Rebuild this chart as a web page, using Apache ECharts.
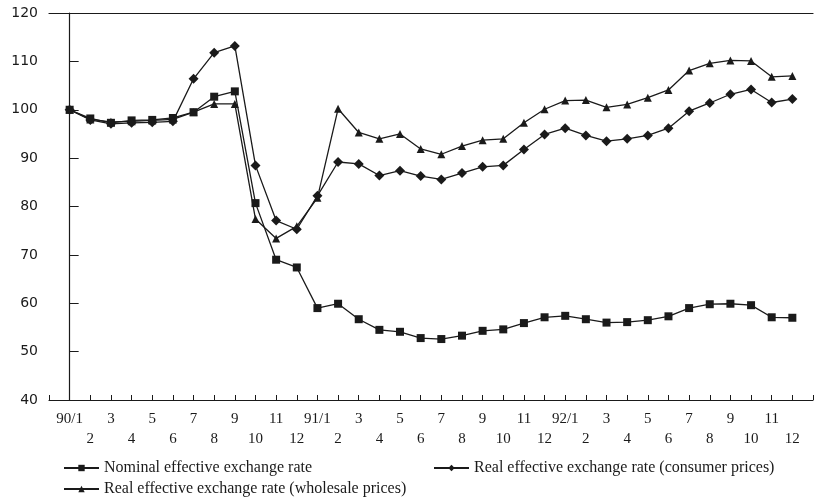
<!DOCTYPE html>
<html>
<head>
<meta charset="utf-8">
<script src="https://cdn.jsdelivr.net/npm/echarts@6/dist/echarts.min.js"></script>
<style>html,body{margin:0;padding:0;background:#fff;}#c{width:816px;height:504px;}</style>
</head>
<body>
<div id="c"></div>
<script>
const months = ['90/1','2','3','4','5','6','7','8','9','10','11','12',
                '91/1','2','3','4','5','6','7','8','9','10','11','12',
                '92/1','2','3','4','5','6','7','8','9','10','11','12'];
const yTicks = [40, 50, 60, 70, 80, 90, 100, 110, 120];
const nominal = [100,98.2,97.3,97.8,97.9,98.3,99.5,102.7,103.8,80.7,69.0,67.4,
                 59.0,59.9,56.7,54.5,54.1,52.8,52.6,53.3,54.3,54.6,55.9,57.1,
                 57.4,56.7,56.0,56.1,56.5,57.3,59.0,59.8,59.9,59.6,57.1,57.0];
const cpi = [100,97.9,97.1,97.3,97.4,97.6,106.4,111.8,113.2,88.5,77.1,75.3,
             82.2,89.2,88.8,86.4,87.4,86.3,85.6,86.9,88.2,88.5,91.8,94.9,
             96.2,94.7,93.5,94.0,94.7,96.2,99.7,101.4,103.2,104.2,101.5,102.2];
const wpi = [100,98.0,97.5,97.6,97.8,98.0,99.5,101.2,101.2,77.4,73.4,75.9,
             81.8,100.2,95.3,94.0,95.0,91.9,90.8,92.5,93.7,94.0,97.3,100.1,
             101.9,102.0,100.5,101.1,102.5,104.1,108.1,109.6,110.2,110.1,106.8,107.0];
const names = ['Nominal effective exchange rate',
               'Real effective exchange rate (consumer prices)',
               'Real effective exchange rate (wholesale prices)'];

const ink = '#1a1a1a';
const pair = arr => arr.map((v, i) => [i, v]);
const chart = echarts.init(document.getElementById('c'), null, {renderer: 'canvas'});
const legendText = {fontFamily: 'Liberation Serif', fontSize: 16, color: ink};
const mkLegend = (name, left, top) => ({
  data: [name], left: left, top: top, itemWidth: 35, itemHeight: 8, itemGap: 6,
  textStyle: legendText, selectedMode: false
});
chart.setOption({
  animation: false,
  backgroundColor: '#fff',
  grid: {left: 49, right: 0, top: 13, bottom: 104},
  legend: [mkLegend(names[0], 58, 455), mkLegend(names[1], 428, 455), mkLegend(names[2], 58, 476)],
  xAxis: [{
    type: 'value', min: -1, max: 36, interval: 1,
    axisLine: {show: true, lineStyle: {color: ink, width: 1.2}},
    axisTick: {show: true, inside: true, length: 5, lineStyle: {color: ink}},
    splitLine: {show: false},
    axisLabel: {
      margin: 9, lineHeight: 20, fontFamily: 'Liberation Serif', fontSize: 15, color: ink,
      showMinLabel: true, showMaxLabel: true,
      formatter: v => {
        const i = Math.round(v);
        if (i < 0 || i >= months.length) return '';
        return i % 2 === 0 ? months[i] : '\n' + months[i];
      }
    }
  }, {
    type: 'value', position: 'top', min: -1, max: 36,
    axisLine: {show: true, lineStyle: {color: ink, width: 1.2}},
    axisTick: {show: false}, axisLabel: {show: false}, splitLine: {show: false}
  }],
  yAxis: {
    type: 'value', min: yTicks[0], max: yTicks[yTicks.length - 1], interval: 10,
    axisLine: {show: true, lineStyle: {color: ink, width: 1.2}},
    axisTick: {show: true, inside: true, length: 9, lineStyle: {color: ink}},
    splitLine: {show: false},
    axisLabel: {margin: 11, fontFamily: 'DejaVu Sans', fontSize: 14, color: ink}
  },
  series: [
    {name: names[0], type: 'line', data: pair(nominal), symbol: 'rect', symbolSize: 8,
     itemStyle: {color: ink}, lineStyle: {color: ink, width: 1.3}},
    {name: names[1], type: 'line', data: pair(cpi), symbol: 'diamond', symbolSize: 10,
     itemStyle: {color: ink}, lineStyle: {color: ink, width: 1.3}},
    {name: names[2], type: 'line', data: pair(wpi), symbol: 'triangle', symbolSize: 8,
     itemStyle: {color: ink}, lineStyle: {color: ink, width: 1.3}}
  ]
});
</script>
</body>
</html>
